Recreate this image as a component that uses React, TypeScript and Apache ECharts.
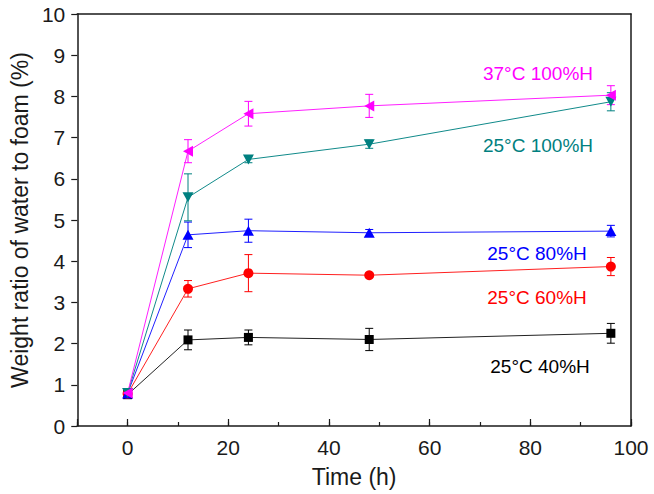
import React, { useEffect, useRef } from "react";
import * as echarts from "echarts";

const times = [0, 12, 24, 48, 96];

const rh40 = [0.76, 2.09, 2.15, 2.1, 2.25];
const rh40Err = [0.05, 0.24, 0.18, 0.27, 0.24];
const rh60 = [0.78, 3.33, 3.71, 3.66, 3.87];
const rh60Err = [0.05, 0.2, 0.45, 0.05, 0.22];
const rh80 = [0.79, 4.64, 4.74, 4.69, 4.73];
const rh80Err = [0.05, 0.31, 0.28, 0.08, 0.14];
const rh100At25 = [0.8, 5.55, 6.47, 6.84, 7.87];
const rh100At25Err = [0.05, 0.57, 0.08, 0.1, 0.22];
const rh100At37 = [0.8, 6.67, 7.58, 7.77, 8.03];
const rh100At37Err = [0.05, 0.28, 0.3, 0.28, 0.23];

const seriesNames = ["25°C 40%H", "25°C 60%H", "25°C 80%H", "25°C 100%H", "37°C 100%H"];
const yTicks = [0, 10];
const xRange = [-10, 100];

const FONT = "'Liberation Sans', Arial, sans-serif";

export default function App() {
  const ref = useRef<HTMLDivElement>(null);
  useEffect(() => {
    if (!ref.current) return;
    const chart = echarts.init(ref.current, null, { renderer: "svg" });

    const defs = [
      { name: seriesNames[0], vals: rh40, err: rh40Err, color: "#000000", line: "#222222", symbol: "rect", size: 9, rotate: 0 },
      { name: seriesNames[1], vals: rh60, err: rh60Err, color: "#ff0000", line: "#ff2020", symbol: "circle", size: 10, rotate: 0 },
      { name: seriesNames[2], vals: rh80, err: rh80Err, color: "#0000ff", line: "#2020ff", symbol: "triangle", size: [11, 10], rotate: 0 },
      { name: seriesNames[3], vals: rh100At25, err: rh100At25Err, color: "#008080", line: "#108a8a", symbol: "triangle", size: [11, 10], rotate: 180 },
      { name: seriesNames[4], vals: rh100At37, err: rh100At37Err, color: "#ff00ff", line: "#ff20ff", symbol: "triangle", size: [11, 10], rotate: 90 },
    ];

    const series: any[] = [];
    defs.forEach((d) => {
      const color = d.color;
      series.push({
        type: "custom",
        name: d.name + " err",
        xAxisIndex: 0,
        yAxisIndex: 0,
        z: 2,
        data: times.map((t, i) => [t, d.vals[i], d.err[i]]),
        encode: { x: 0, y: 1 },
        renderItem: (params: any, api: any) => {
          const x = api.value(0);
          const y = api.value(1);
          const e = api.value(2);
          const top = api.coord([x, y + e]);
          const bot = api.coord([x, y - e]);
          const hw = 4;
          const st = { stroke: color, lineWidth: 1 };
          return {
            type: "group",
            children: [
              { type: "line", shape: { x1: top[0], y1: top[1], x2: bot[0], y2: bot[1] }, style: st },
              { type: "line", shape: { x1: top[0] - hw, y1: top[1], x2: top[0] + hw, y2: top[1] }, style: st },
              { type: "line", shape: { x1: bot[0] - hw, y1: bot[1], x2: bot[0] + hw, y2: bot[1] }, style: st },
            ],
          };
        },
      });
      series.push({
        type: "line",
        name: d.name,
        xAxisIndex: 0,
        yAxisIndex: 0,
        z: 3,
        data: times.map((t, i) => [t, d.vals[i]]),
        symbol: d.symbol,
        symbolSize: d.size,
        symbolRotate: d.rotate,
        showAllSymbol: true,
        lineStyle: { color: d.line, width: 1 },
        itemStyle: { color },
      });
    });

    const axisLine = { show: true, onZero: false, lineStyle: { color: "#1a1a1a", width: 1.5 } };

    const option: any = {
      animation: false,
      backgroundColor: "#ffffff",
      grid: { left: 76, right: 23, top: 14, bottom: 68, containLabel: false },
      xAxis: [
        {
          type: "value",
          min: xRange[0],
          max: xRange[1],
          interval: 10,
          position: "bottom",
          axisLine,
          axisTick: { show: true, inside: true, length: 4, lineStyle: { color: "#1a1a1a", width: 1.2 } },
          axisLabel: {
            show: true,
            margin: 11,
            fontSize: 21,
            fontFamily: FONT,
            color: "#1a1a1a",
            formatter: (v: number) => (v >= 0 && v % 20 === 0 ? String(v) : ""),
          },
          splitLine: { show: false },
          name: "Time (h)",
          nameLocation: "middle",
          nameGap: 39,
          nameTextStyle: { fontSize: 23, fontFamily: FONT, color: "#1a1a1a" },
        },
        {
          type: "value",
          min: xRange[0],
          max: xRange[1],
          splitNumber: 5,
          position: "bottom",
          axisLine: { show: false, onZero: false },
          axisTick: { show: true, inside: true, length: 7, lineStyle: { color: "#1a1a1a", width: 1.2 } },
          axisLabel: { show: false },
          splitLine: { show: false },
        },
        {
          type: "value",
          min: xRange[0],
          max: xRange[1],
          position: "top",
          axisLine,
          axisTick: { show: false },
          axisLabel: { show: false },
          splitLine: { show: false },
        },
      ],
      yAxis: [
        {
          type: "value",
          min: yTicks[0],
          max: yTicks[1],
          interval: 1,
          position: "left",
          axisLine,
          axisTick: { show: true, inside: false, length: 6, lineStyle: { color: "#1a1a1a", width: 1.2 } },
          axisLabel: { margin: 12, fontSize: 21, fontFamily: FONT, color: "#1a1a1a" },
          splitLine: { show: false },
          name: "Weight ratio of water to foam (%)",
          nameLocation: "middle",
          nameGap: 39,
          nameTextStyle: { fontSize: 23, fontFamily: FONT, color: "#1a1a1a" },
        },
        {
          type: "value",
          min: yTicks[0],
          max: yTicks[1],
          position: "right",
          axisLine,
          axisTick: { show: false },
          axisLabel: { show: false },
          splitLine: { show: false },
        },
      ],
      graphic: [
        { type: "text", x: 538, y: 73, style: { text: seriesNames[4], fill: "#ff00ff", font: `19px ${FONT}`, align: "center", verticalAlign: "middle" } },
        { type: "text", x: 538, y: 145, style: { text: seriesNames[3], fill: "#008080", font: `19px ${FONT}`, align: "center", verticalAlign: "middle" } },
        { type: "text", x: 537, y: 253, style: { text: seriesNames[2], fill: "#0000ff", font: `19px ${FONT}`, align: "center", verticalAlign: "middle" } },
        { type: "text", x: 537, y: 297, style: { text: seriesNames[1], fill: "#ff0000", font: `19px ${FONT}`, align: "center", verticalAlign: "middle" } },
        { type: "text", x: 540, y: 366, style: { text: seriesNames[0], fill: "#000000", font: `19px ${FONT}`, align: "center", verticalAlign: "middle" } },
      ],
      series,
    };

    chart.setOption(option);
    return () => chart.dispose();
  }, []);

  return <div ref={ref} style={{ width: 654, height: 494, position: "absolute", left: 0, top: 0 }} />;
}
